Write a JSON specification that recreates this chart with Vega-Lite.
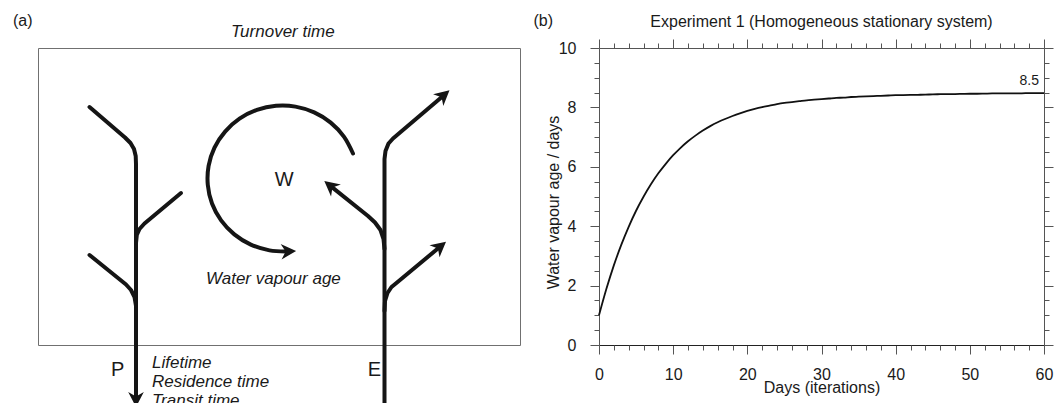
{
  "$schema": "https://vega.github.io/schema/vega-lite/v6.json",
  "background": "white",
  "padding": {"left": 12, "top": 12, "right": 0, "bottom": 0},
  "config": {
    "font": "Liberation Sans",
    "view": {"stroke": null},
    "axis": {"labelFontSize": 16, "titleFontSize": 16, "titleFontWeight": "normal", "labelColor": "#1a1a1a", "titleColor": "#1a1a1a", "tickColor": "#555", "domainColor": "#555", "grid": false, "labelFlush": false, "labelOverlap": false, "tickWidth": 1, "domainWidth": 1},
    "title": {"fontSize": 16, "fontWeight": "normal", "color": "#1a1a1a"}
  },
  "datasets": {
    "strokes": [
      {"path": "P1", "i": 0, "x": 51.5, "y": 59},
      {"path": "P1", "i": 1, "x": 87, "y": 89.5},
      {"path": "P1", "i": 2, "x": 92.5, "y": 95},
      {"path": "P1", "i": 3, "x": 96, "y": 101},
      {"path": "P1", "i": 4, "x": 97.7, "y": 108},
      {"path": "P1", "i": 5, "x": 98, "y": 116},
      {"path": "P1", "i": 6, "x": 98, "y": 348},
      {"path": "P2", "i": 0, "x": 143, "y": 145},
      {"path": "P2", "i": 1, "x": 106.5, "y": 175.5},
      {"path": "P2", "i": 2, "x": 101.5, "y": 181},
      {"path": "P2", "i": 3, "x": 98.8, "y": 187},
      {"path": "P2", "i": 4, "x": 98, "y": 195},
      {"path": "P3", "i": 0, "x": 51.5, "y": 207},
      {"path": "P3", "i": 1, "x": 88, "y": 236.5},
      {"path": "P3", "i": 2, "x": 93, "y": 242},
      {"path": "P3", "i": 3, "x": 96.5, "y": 249},
      {"path": "P3", "i": 4, "x": 98, "y": 258},
      {"path": "E1", "i": 0, "x": 346.5, "y": 365},
      {"path": "E1", "i": 1, "x": 346.5, "y": 111},
      {"path": "E1", "i": 2, "x": 347.5, "y": 103},
      {"path": "E1", "i": 3, "x": 350.5, "y": 95.5},
      {"path": "E1", "i": 4, "x": 355, "y": 90.5},
      {"path": "E1", "i": 5, "x": 360, "y": 86.3},
      {"path": "E1", "i": 6, "x": 404.7, "y": 48.2},
      {"path": "E2", "i": 0, "x": 346.5, "y": 201},
      {"path": "E2", "i": 1, "x": 345.5, "y": 191},
      {"path": "E2", "i": 2, "x": 342.5, "y": 182},
      {"path": "E2", "i": 3, "x": 337, "y": 174.5},
      {"path": "E2", "i": 4, "x": 330, "y": 168},
      {"path": "E2", "i": 5, "x": 293.3, "y": 138.6},
      {"path": "E3", "i": 0, "x": 346.5, "y": 263},
      {"path": "E3", "i": 1, "x": 347, "y": 253},
      {"path": "E3", "i": 2, "x": 349.5, "y": 245},
      {"path": "E3", "i": 3, "x": 353.5, "y": 239},
      {"path": "E3", "i": 4, "x": 359, "y": 234.5},
      {"path": "E3", "i": 5, "x": 401.1, "y": 199.5}
    ],
    "arc": [
      {"i": 0, "x": 315.0, "y": 105.5},
      {"i": 1, "x": 305.9, "y": 88.6},
      {"i": 2, "x": 292.7, "y": 74.6},
      {"i": 3, "x": 276.2, "y": 64.4},
      {"i": 4, "x": 257.5, "y": 58.6},
      {"i": 5, "x": 238.0, "y": 57.8},
      {"i": 6, "x": 218.9, "y": 61.9},
      {"i": 7, "x": 201.5, "y": 70.7},
      {"i": 8, "x": 187.1, "y": 83.6},
      {"i": 9, "x": 176.5, "y": 99.6},
      {"i": 10, "x": 170.6, "y": 117.8},
      {"i": 11, "x": 169.8, "y": 136.9},
      {"i": 12, "x": 174.0, "y": 155.5},
      {"i": 13, "x": 183.1, "y": 172.4},
      {"i": 14, "x": 196.3, "y": 186.4},
      {"i": 15, "x": 212.8, "y": 196.6},
      {"i": 16, "x": 231.5, "y": 202.4},
      {"i": 17, "x": 249.1, "y": 203.4}
    ],
    "heads": [
      {"id": "P", "x": 98, "y": 359},
      {"id": "E1", "x": 411.5, "y": 42.3},
      {"id": "E2", "x": 286.3, "y": 133},
      {"id": "E3", "x": 408, "y": 193.7},
      {"id": "W", "x": 258.1, "y": 202.9}
    ],
    "letters": [
      {"label": "W", "x": 246.3, "y": 138},
      {"label": "P", "x": 79.7, "y": 328},
      {"label": "E", "x": 336.3, "y": 328}
    ],
    "notes": [
      {"label": "Turnover time", "x": 193, "y": -11},
      {"label": "Water vapour age", "x": 168, "y": 236},
      {"label": "Lifetime", "x": 114, "y": 319.7},
      {"label": "Residence time", "x": 114, "y": 338.7},
      {"label": "Transit time", "x": 114, "y": 357.5}
    ],
    "panels": [
      {"label": "(a)", "x": -25, "y": -22},
      {"label": "(b)", "x": 495.5, "y": -22}
    ],
    "endlabel": [
      {"day": 60, "age": 8.5, "label": "8.5"}
    ],
    "age": [
      {"day": 0, "age": 1.0}, {"day": 1, "age": 1.89}, {"day": 2, "age": 2.68}, {"day": 3, "age": 3.37},
      {"day": 4, "age": 3.98}, {"day": 5, "age": 4.52}, {"day": 6, "age": 4.99}, {"day": 7, "age": 5.41},
      {"day": 8, "age": 5.78}, {"day": 9, "age": 6.1}, {"day": 10, "age": 6.39}, {"day": 11, "age": 6.64},
      {"day": 12, "age": 6.86}, {"day": 13, "age": 7.05}, {"day": 14, "age": 7.22}, {"day": 15, "age": 7.37},
      {"day": 16, "age": 7.5}, {"day": 17, "age": 7.61}, {"day": 18, "age": 7.71}, {"day": 19, "age": 7.8},
      {"day": 20, "age": 7.88}, {"day": 21, "age": 7.95}, {"day": 22, "age": 8.01}, {"day": 23, "age": 8.06},
      {"day": 24, "age": 8.11}, {"day": 25, "age": 8.15}, {"day": 26, "age": 8.18}, {"day": 27, "age": 8.21},
      {"day": 28, "age": 8.24}, {"day": 29, "age": 8.26}, {"day": 30, "age": 8.28}, {"day": 31, "age": 8.3},
      {"day": 32, "age": 8.32}, {"day": 33, "age": 8.33}, {"day": 34, "age": 8.35}, {"day": 35, "age": 8.36},
      {"day": 36, "age": 8.37}, {"day": 37, "age": 8.38}, {"day": 38, "age": 8.39}, {"day": 39, "age": 8.4},
      {"day": 40, "age": 8.41}, {"day": 41, "age": 8.415}, {"day": 42, "age": 8.42}, {"day": 43, "age": 8.425},
      {"day": 44, "age": 8.43}, {"day": 45, "age": 8.44}, {"day": 46, "age": 8.445}, {"day": 47, "age": 8.45},
      {"day": 48, "age": 8.45}, {"day": 49, "age": 8.455}, {"day": 50, "age": 8.46}, {"day": 51, "age": 8.46},
      {"day": 52, "age": 8.465}, {"day": 53, "age": 8.47}, {"day": 54, "age": 8.47}, {"day": 55, "age": 8.47},
      {"day": 56, "age": 8.475}, {"day": 57, "age": 8.475}, {"day": 58, "age": 8.48}, {"day": 59, "age": 8.48},
      {"day": 60, "age": 8.48}
    ]
  },
  "bounds": "flush",
  "spacing": 79,
  "hconcat": [
    {
      "width": 482,
      "height": 297,
      "view": {"stroke": "#707070", "strokeWidth": 1},
      "encoding": {
        "x": {"field": "x", "type": "quantitative", "scale": {"domain": [0, 482], "nice": false, "zero": false}, "axis": null},
        "y": {"field": "y", "type": "quantitative", "scale": {"domain": [0, 297], "nice": false, "zero": false, "reverse": true}, "axis": null}
      },
      "layer": [
        {
          "data": {"name": "strokes"},
          "mark": {"type": "line", "stroke": "#151515", "strokeWidth": 4, "strokeCap": "round", "strokeJoin": "round"},
          "encoding": {"detail": {"field": "path", "type": "nominal"}, "order": {"field": "i", "type": "quantitative"}}
        },
        {
          "data": {"name": "arc"},
          "mark": {"type": "line", "stroke": "#151515", "strokeWidth": 4, "strokeCap": "round", "strokeJoin": "round", "interpolate": "catmull-rom"},
          "encoding": {"order": {"field": "i", "type": "quantitative"}}
        },
        {
          "data": {"name": "heads"},
          "transform": [{"filter": "datum.id === 'P'"}],
          "mark": {"type": "point", "shape": "M0,0L0.52,1L0,0.7L-0.52,1Z", "size": 900, "filled": true, "color": "#151515", "opacity": 1, "strokeWidth": 0, "angle": 180}
        },
        {
          "data": {"name": "heads"},
          "transform": [{"filter": "datum.id === 'E1'"}],
          "mark": {"type": "point", "shape": "M0,0L0.52,1L0,0.7L-0.52,1Z", "size": 900, "filled": true, "color": "#151515", "opacity": 1, "strokeWidth": 0, "angle": 49}
        },
        {
          "data": {"name": "heads"},
          "transform": [{"filter": "datum.id === 'E2'"}],
          "mark": {"type": "point", "shape": "M0,0L0.52,1L0,0.7L-0.52,1Z", "size": 900, "filled": true, "color": "#151515", "opacity": 1, "strokeWidth": 0, "angle": 309}
        },
        {
          "data": {"name": "heads"},
          "transform": [{"filter": "datum.id === 'E3'"}],
          "mark": {"type": "point", "shape": "M0,0L0.52,1L0,0.7L-0.52,1Z", "size": 900, "filled": true, "color": "#151515", "opacity": 1, "strokeWidth": 0, "angle": 50}
        },
        {
          "data": {"name": "heads"},
          "transform": [{"filter": "datum.id === 'W'"}],
          "mark": {"type": "point", "shape": "M0,0L0.52,1L0,0.7L-0.52,1Z", "size": 900, "filled": true, "color": "#151515", "opacity": 1, "strokeWidth": 0, "angle": 86.6}
        },
        {
          "data": {"name": "letters"},
          "mark": {"type": "text", "align": "center", "baseline": "alphabetic", "fontSize": 20, "color": "#1a1a1a"},
          "encoding": {"text": {"field": "label", "type": "nominal"}}
        },
        {
          "data": {"name": "notes"},
          "mark": {"type": "text", "align": "left", "baseline": "alphabetic", "fontSize": 17, "fontStyle": "italic", "color": "#1a1a1a"},
          "encoding": {"text": {"field": "label", "type": "nominal"}}
        },
        {
          "data": {"name": "panels"},
          "mark": {"type": "text", "align": "left", "baseline": "alphabetic", "fontSize": 16, "color": "#1a1a1a"},
          "encoding": {"text": {"field": "label", "type": "nominal"}}
        }
      ]
    },
    {
      "width": 445,
      "height": 297,
      "title": {"text": "Experiment 1 (Homogeneous stationary system)", "offset": -4, "baseline": "alphabetic", "frame": "group", "anchor": "middle"},
      "data": {"name": "age"},
      "resolve": {"axis": {"x": "independent", "y": "independent"}},
      "layer": [
        {
          "mark": {"type": "line", "color": "#111", "strokeWidth": 1.8, "interpolate": "monotone"},
          "encoding": {
            "x": {"field": "day", "type": "quantitative", "scale": {"domain": [0, 60], "nice": false},
                  "axis": {"orient": "bottom", "values": [0, 10, 20, 30, 40, 50, 60], "tickSize": 9, "labelPadding": 12.5, "title": "Days (iterations)", "titlePadding": -3.5, "domainColor": "#222"}},
            "y": {"field": "age", "type": "quantitative", "scale": {"domain": [0, 10], "nice": false},
                  "axis": {"orient": "left", "values": [0, 2, 4, 6, 8, 10], "tickSize": 9, "labelPadding": 14, "title": "Water vapour age / days", "titlePadding": -3, "titleY": 154}}
          }
        },
        {
          "data": {"name": "endlabel"},
          "mark": {"type": "text", "align": "right", "baseline": "alphabetic", "dx": -5, "dy": -7.5, "fontSize": 14, "color": "#1a1a1a"},
          "encoding": {
            "x": {"field": "day", "type": "quantitative", "axis": {"orient": "top", "values": [0, 10, 20, 30, 40, 50, 60], "tickSize": 9, "labels": false, "title": null}},
            "y": {"field": "age", "type": "quantitative", "axis": {"orient": "right", "values": [0, 2, 4, 6, 8, 10], "tickSize": 9, "labels": false, "title": null}},
            "text": {"field": "label", "type": "nominal"}
          }
        },
        {
          "mark": {"type": "point", "opacity": 0, "size": 1},
          "encoding": {
            "x": {"field": "day", "type": "quantitative", "axis": {"orient": "bottom", "values": [2, 4, 6, 8, 12, 14, 16, 18, 22, 24, 26, 28, 32, 34, 36, 38, 42, 44, 46, 48, 52, 54, 56, 58], "tickSize": 5, "labels": false, "domain": false, "title": null}},
            "y": {"field": "age", "type": "quantitative", "axis": {"orient": "left", "values": [0.5, 1, 1.5, 2.5, 3, 3.5, 4.5, 5, 5.5, 6.5, 7, 7.5, 8.5, 9, 9.5], "tickSize": 5, "labels": false, "domain": false, "title": null}}
          }
        },
        {
          "mark": {"type": "point", "opacity": 0, "size": 1},
          "encoding": {
            "x": {"field": "day", "type": "quantitative", "axis": {"orient": "top", "values": [2, 4, 6, 8, 12, 14, 16, 18, 22, 24, 26, 28, 32, 34, 36, 38, 42, 44, 46, 48, 52, 54, 56, 58], "tickSize": 5, "labels": false, "domain": false, "title": null}},
            "y": {"field": "age", "type": "quantitative", "axis": {"orient": "right", "values": [0.5, 1, 1.5, 2.5, 3, 3.5, 4.5, 5, 5.5, 6.5, 7, 7.5, 8.5, 9, 9.5], "tickSize": 5, "labels": false, "domain": false, "title": null}}
          }
        }
      ]
    }
  ]
}
